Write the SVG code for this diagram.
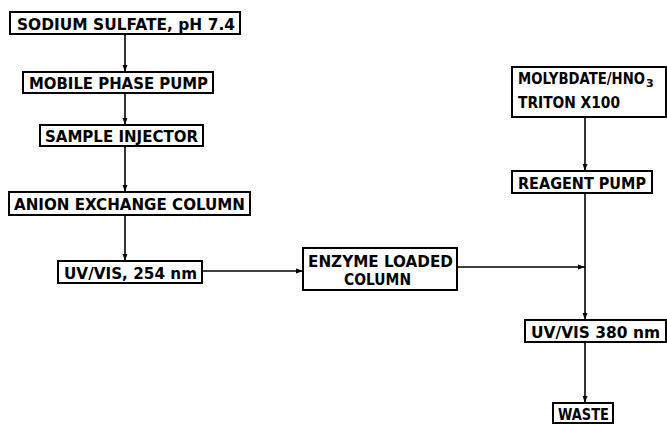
<svg xmlns="http://www.w3.org/2000/svg" width="667" height="424" viewBox="0 0 667 424">
<defs>
<style>
.box{fill:#fff;stroke:#000;stroke-width:2}
.t{font-family:"DejaVu Sans",sans-serif;font-size:15px;font-weight:bold;fill:#000}
.c{fill:none;stroke:#000;stroke-width:1.6}
</style>
<marker id="ah" viewBox="0 0 10 10" refX="10" refY="5" markerWidth="7" markerHeight="7" markerUnits="userSpaceOnUse" orient="auto">
<path d="M0,1.5 L10,5 L0,8.5 z" fill="#000"/>
</marker>
</defs>
<rect width="667" height="424" fill="#fff"/>
<g id="connectors">
<line class="c" x1="125" y1="34" x2="125" y2="72" marker-end="url(#ah)"/>
<line class="c" x1="125" y1="93" x2="125" y2="125" marker-end="url(#ah)"/>
<line class="c" x1="125" y1="146" x2="125" y2="192" marker-end="url(#ah)"/>
<line class="c" x1="125" y1="215" x2="125" y2="261" marker-end="url(#ah)"/>
<line class="c" x1="202" y1="271" x2="303" y2="271" marker-end="url(#ah)"/>
<line class="c" x1="457" y1="267" x2="585" y2="267" marker-end="url(#ah)"/>
<line class="c" x1="585" y1="117" x2="585" y2="171" marker-end="url(#ah)"/>
<line class="c" x1="585" y1="193" x2="585" y2="320" marker-end="url(#ah)"/>
<line class="c" x1="585" y1="342" x2="585" y2="403" marker-end="url(#ah)"/>
</g>
<g id="n1"><rect class="box" x="10" y="12" width="230" height="22"/><text class="t" x="17" y="30" textLength="218" lengthAdjust="spacingAndGlyphs">SODIUM SULFATE, pH 7.4</text></g>
<g id="n2"><rect class="box" x="23" y="72" width="190" height="21"/><text class="t" x="29" y="89" textLength="179" lengthAdjust="spacingAndGlyphs">MOBILE PHASE PUMP</text></g>
<g id="n3"><rect class="box" x="40" y="125" width="163" height="21"/><text class="t" x="45" y="142" textLength="153" lengthAdjust="spacingAndGlyphs">SAMPLE INJECTOR</text></g>
<g id="n4"><rect class="box" x="9" y="192" width="241" height="23"/><text class="t" x="14" y="210" textLength="231" lengthAdjust="spacingAndGlyphs">ANION EXCHANGE COLUMN</text></g>
<g id="n5"><rect class="box" x="58" y="261" width="144" height="22"/><text class="t" x="64" y="279" textLength="133" lengthAdjust="spacingAndGlyphs">UV/VIS, 254 nm</text></g>
<g id="n6"><rect class="box" x="303" y="248" width="154" height="42"/><text class="t" x="308" y="267" textLength="145" lengthAdjust="spacingAndGlyphs">ENZYME LOADED</text><text class="t" x="344" y="285" textLength="67" lengthAdjust="spacingAndGlyphs">COLUMN</text></g>
<g id="n7"><rect class="box" x="512" y="67" width="154" height="50"/><text class="t" x="518" y="84"><tspan textLength="127" lengthAdjust="spacingAndGlyphs">MOLYBDATE/HNO</tspan><tspan font-size="11" dx="1" dy="3">3</tspan></text><text class="t" x="518" y="108" textLength="102" lengthAdjust="spacingAndGlyphs">TRITON X100</text></g>
<g id="n8"><rect class="box" x="512" y="171" width="140" height="22"/><text class="t" x="518" y="189" textLength="128" lengthAdjust="spacingAndGlyphs">REAGENT PUMP</text></g>
<g id="n9"><rect class="box" x="525" y="320" width="141" height="22"/><text class="t" x="531" y="338" textLength="129" lengthAdjust="spacingAndGlyphs">UV/VIS 380 nm</text></g>
<g id="n10"><rect class="box" x="553" y="403" width="60" height="20"/><text class="t" x="558" y="420" textLength="51" lengthAdjust="spacingAndGlyphs">WASTE</text></g>
</svg>
